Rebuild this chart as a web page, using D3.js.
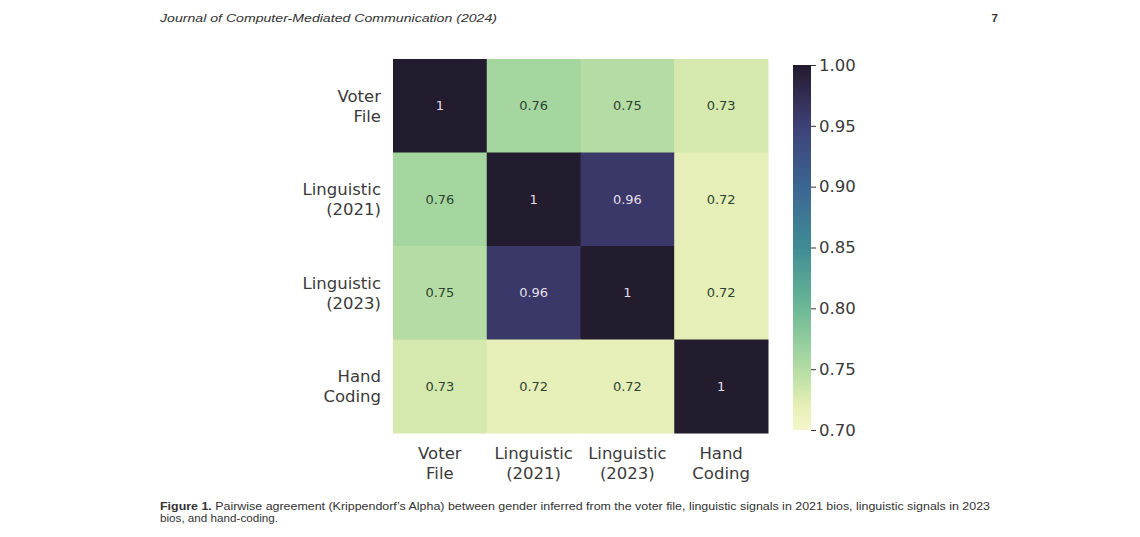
<!DOCTYPE html>
<html><head><meta charset="utf-8">
<script src="https://cdn.jsdelivr.net/npm/d3@7"></script>
<style>body{margin:0;background:#fff;} svg{display:block;}</style>
</head><body>
<script>
const rowLabels = [["Voter","File"],["Linguistic","(2021)"],["Linguistic","(2023)"],["Hand","Coding"]];
const colLabels = [["Voter","File"],["Linguistic","(2021)"],["Linguistic","(2023)"],["Hand","Coding"]];
const values = [
  [1, 0.76, 0.75, 0.73],
  [0.76, 1, 0.96, 0.72],
  [0.75, 0.96, 1, 0.72],
  [0.73, 0.72, 0.72, 1]
];
const cbTicks = [0.70, 0.75, 0.80, 0.85, 0.90, 0.95, 1.00];
const colorStops = [0.70, 0.72, 0.73, 0.75, 0.76, 0.80, 0.85, 0.90, 0.95, 0.96, 1.00];
const colorHex = ["#f5f7cb","#e6efb7","#d5e9ae","#b4dca4","#a5d6a0","#6cb896","#3f8c94","#3c6592","#3d4176","#3a3868","#231b2e"];

const W = 1140, H = 537;
const svg = d3.select("body").append("svg").attr("width", W).attr("height", H);
const font = "'DejaVu Sans', sans-serif";
const serifish = "'Liberation Sans', Arial, sans-serif";

const color = d3.scaleLinear().domain(colorStops).range(colorHex).interpolate(d3.interpolateRgb).clamp(true);

// header
svg.append("text").attr("x",160).attr("y",22).attr("font-family",serifish)
  .attr("font-style","italic").attr("font-size",11.5).attr("fill","#333")
  .attr("textLength",337).attr("lengthAdjust","spacingAndGlyphs")
  .text("Journal of Computer-Mediated Communication (2024)");
svg.append("text").attr("x",998).attr("y",22).attr("font-family",serifish)
  .attr("font-weight","bold").attr("font-size",11.5).attr("fill","#333").attr("text-anchor","end").text("7");

const gx0 = 393, gx1 = 768, gy0 = 59, gy1 = 433;
const idx = d3.range(values.length);
const x = d3.scaleBand().domain(idx).range([gx0, gx1]);
const y = d3.scaleBand().domain(idx).range([gy0, gy1]);

const cells = [];
values.forEach((row,i)=>row.forEach((v,j)=>cells.push({i,j,v})));

svg.append("g").selectAll("rect").data(cells).join("rect")
  .attr("x", d=>x(d.j)).attr("y", d=>y(d.i))
  .attr("width", x.bandwidth()+0.5).attr("height", y.bandwidth()+0.5)
  .attr("fill", d=>color(d.v));

svg.append("g").selectAll("text").data(cells).join("text")
  .attr("x", d=>x(d.j)+x.bandwidth()/2).attr("y", d=>y(d.i)+y.bandwidth()/2)
  .attr("dy","0.35em").attr("text-anchor","middle")
  .attr("font-family", font).attr("font-size", 13)
  .attr("fill", d=> d.v > 0.85 ? "#e4dfea" : "#2d4430")
  .text(d=> d3.format("")(+d.v.toFixed(2)));

// row labels
const rl = svg.append("g");
idx.forEach(i=>{
  const cy = y(i)+y.bandwidth()/2;
  rl.append("text").attr("x",381).attr("y",cy-10).attr("dy","0.35em").attr("text-anchor","end")
    .attr("font-family",font).attr("font-size",16.5).attr("fill","#3a3a3a").text(rowLabels[i][0]);
  rl.append("text").attr("x",381).attr("y",cy+10).attr("dy","0.35em").attr("text-anchor","end")
    .attr("font-family",font).attr("font-size",16.5).attr("fill","#3a3a3a").text(rowLabels[i][1]);
});
// col labels
idx.forEach(j=>{
  const cx = x(j)+x.bandwidth()/2;
  svg.append("text").attr("x",cx).attr("y",453).attr("dy","0.35em").attr("text-anchor","middle")
    .attr("font-family",font).attr("font-size",16.5).attr("fill","#3a3a3a").text(colLabels[j][0]);
  svg.append("text").attr("x",cx).attr("y",473).attr("dy","0.35em").attr("text-anchor","middle")
    .attr("font-family",font).attr("font-size",16.5).attr("fill","#3a3a3a").text(colLabels[j][1]);
});

// colorbar
const cbx = 793, cbw = 18, cby0 = 65, cby1 = 430;
const cbScale = d3.scaleLinear().domain([0.70, 1.00]).range([cby1, cby0]);
const defs = svg.append("defs");
const grad = defs.append("linearGradient").attr("id","cbg").attr("x1","0").attr("y1","1").attr("x2","0").attr("y2","0");
d3.range(0, 1.0001, 0.02).forEach(t=>{
  grad.append("stop").attr("offset", t).attr("stop-color", color(0.70 + 0.30*t));
});
svg.append("rect").attr("x",cbx).attr("y",cby0).attr("width",cbw).attr("height",cby1-cby0).attr("fill","url(#cbg)");
const cbAxis = d3.axisRight(cbScale).tickValues(cbTicks).tickFormat(d3.format(".2f")).tickSize(5).tickPadding(3);
const ga = svg.append("g").attr("transform",`translate(${cbx+cbw},0)`).call(cbAxis);
ga.select(".domain").remove();
ga.selectAll("line").attr("stroke","#333");
ga.selectAll("text").attr("font-family",font).attr("font-size",16.5).attr("fill","#3a3a3a");

// caption
const cap = svg.append("text").attr("x",160).attr("y",510).attr("font-family",serifish)
  .attr("font-size",10).attr("fill","#333")
  .attr("textLength",830).attr("lengthAdjust","spacingAndGlyphs");
cap.append("tspan").attr("font-weight","bold").text("Figure 1.");
cap.append("tspan").text(" Pairwise agreement (Krippendorf\u2019s Alpha) between gender inferred from the voter file, linguistic signals in 2021 bios, linguistic signals in 2023");
svg.append("text").attr("x",160).attr("y",522).attr("font-family",serifish)
  .attr("font-size",10).attr("fill","#333")
  .attr("textLength",118).attr("lengthAdjust","spacingAndGlyphs")
  .text("bios, and hand-coding.");
</script>
</body></html>
